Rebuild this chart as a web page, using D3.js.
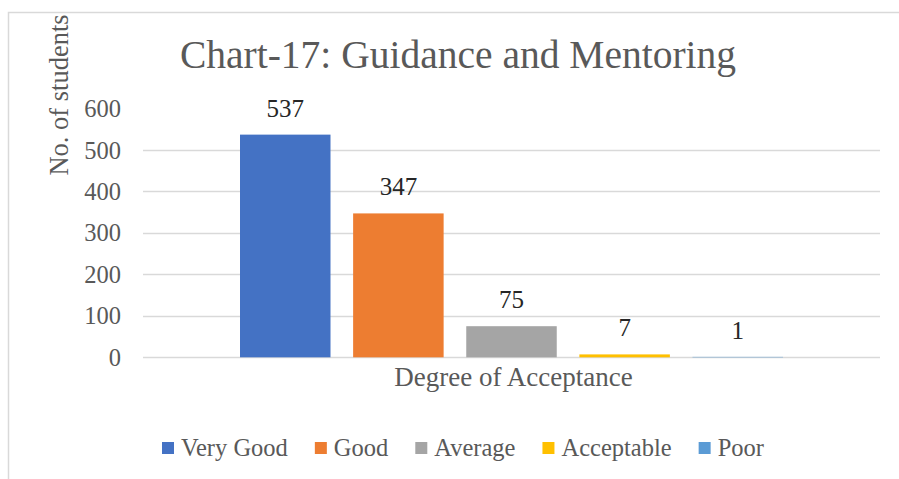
<!DOCTYPE html>
<html><head><meta charset="utf-8">
<script src="https://cdn.jsdelivr.net/npm/d3@7"></script>
<style>html,body{margin:0;padding:0;background:#fff;} svg{display:block;}</style>
</head><body>
<script>
const title = "Chart-17: Guidance and Mentoring";
const categories = ["Degree of Acceptance"];
const seriesNames = ["Very Good", "Good", "Average", "Acceptable", "Poor"];
const seriesValues = [537, 347, 75, 7, 1];
const seriesColors = ["#4472C4", "#ED7D31", "#A5A5A5", "#FFC000", "#5B9BD5"];
const yTicks = [0, 100, 200, 300, 400, 500, 600];
const yLabel = "No. of students";

const W = 899, H = 479;
const FONT = "'Liberation Serif', 'DejaVu Serif', serif";
const svg = d3.select("body").append("svg").attr("width", W).attr("height", H);

// chart frame
svg.append("path").attr("d", `M8.5,${H+2} V12.5 H${W+2}`)
  .attr("fill", "none").attr("stroke", "#d9d9d9").attr("stroke-width", 1.5);

const plot = {left: 143, right: 880, top: 108.5, bottom: 357.3};
const y = d3.scaleLinear().domain([0, 600]).range([plot.bottom, plot.top]);
const x = d3.scaleBand().domain(categories).range([plot.left, plot.right]).paddingInner(0).paddingOuter(0);
const groupW = 543;
const xs = d3.scaleBand().domain(seriesNames)
  .range([x(categories[0]) + (x.bandwidth() - groupW) / 2, x(categories[0]) + (x.bandwidth() + groupW) / 2])
  .paddingInner(0.2).paddingOuter(0);

// gridlines (no line at top tick)
svg.append("g").selectAll("line").data(yTicks.filter(t => t < 600)).join("line")
  .attr("x1", plot.left).attr("x2", plot.right)
  .attr("y1", d => Math.round(y(d)) + 0.5).attr("y2", d => Math.round(y(d)) + 0.5)
  .attr("stroke", "#d9d9d9").attr("stroke-width", 1.5);

// y axis labels
const yAxis = d3.axisLeft(y).tickValues(yTicks).tickSize(0).tickPadding(0);
const gy = svg.append("g").attr("transform", `translate(121,0)`).call(yAxis);
gy.select(".domain").remove();
gy.selectAll("text").attr("font-family", FONT).attr("font-size", 24.5).attr("fill", "#595959").attr("dy", "0.33em");

// bars
svg.append("g").selectAll("rect").data(seriesValues).join("rect")
  .attr("x", (d, i) => xs(seriesNames[i]))
  .attr("width", xs.bandwidth())
  .attr("y", d => y(d))
  .attr("height", d => y(0) - y(d))
  .attr("fill", (d, i) => seriesColors[i]);

// data labels
svg.append("g").selectAll("text").data(seriesValues).join("text")
  .attr("x", (d, i) => xs(seriesNames[i]) + xs.bandwidth() / 2)
  .attr("y", d => y(d) - 18)
  .attr("text-anchor", "middle")
  .attr("font-family", FONT).attr("font-size", 25).attr("fill", "#262626")
  .text(d => d);

// title
svg.append("text").attr("x", 458).attr("y", 68)
  .attr("text-anchor", "middle").attr("font-family", FONT).attr("font-size", 39.5)
  .attr("fill", "#595959").text(title);

// y label
svg.append("text").attr("transform", "translate(68,95) rotate(-90)")
  .attr("text-anchor", "middle").attr("font-family", FONT).attr("font-size", 26.5)
  .attr("fill", "#595959").text(yLabel);

// x label
svg.append("text").attr("x", x(categories[0]) + x.bandwidth() / 2 + 2).attr("y", 386)
  .attr("text-anchor", "middle").attr("font-family", FONT).attr("font-size", 27)
  .attr("fill", "#595959").text(categories[0]);

// legend
const leg = svg.append("g");
let lx = 162;
seriesNames.forEach((n, i) => {
  leg.append("rect").attr("x", lx).attr("y", 442).attr("width", 12).attr("height", 12).attr("fill", seriesColors[i]);
  const t = leg.append("text").attr("x", lx + 19).attr("y", 456)
    .attr("font-family", FONT).attr("font-size", 24.5).attr("fill", "#595959").text(n);
  lx += 19 + t.node().getComputedTextLength() + 27;
});
</script>
</body></html>
